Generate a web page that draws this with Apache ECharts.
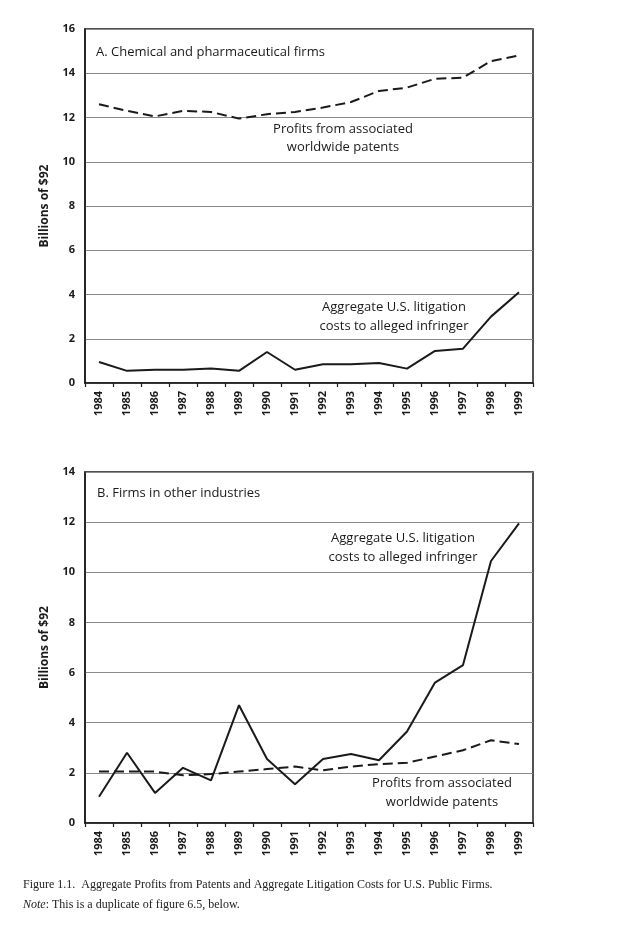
<!DOCTYPE html>
<html>
<head>
<meta charset="utf-8">
<script src="https://cdn.jsdelivr.net/npm/echarts@6/dist/echarts.min.js"></script>
<style>
  html, body { margin: 0; padding: 0; background: #fff; }
  #chart { width: 639px; height: 932px; }
</style>
</head>
<body>
<div id="chart"></div>
<script>
const years = ['1984','1985','1986','1987','1988','1989','1990','1991','1992','1993','1994','1995','1996','1997','1998','1999'];

// Panel A: Chemical and pharmaceutical firms
const chemProfits = [12.6, 12.3, 12.05, 12.3, 12.25, 11.95, 12.15, 12.25, 12.45, 12.7, 13.2, 13.35, 13.75, 13.8, 14.55, 14.8];
const chemLitigation = [0.95, 0.55, 0.6, 0.6, 0.65, 0.55, 1.4, 0.6, 0.85, 0.85, 0.9, 0.65, 1.45, 1.55, 3.0, 4.1];

// Panel B: Firms in other industries
const otherProfits = [2.05, 2.05, 2.05, 1.9, 1.95, 2.05, 2.15, 2.25, 2.1, 2.25, 2.35, 2.4, 2.65, 2.9, 3.3, 3.15];
const otherLitigation = [1.05, 2.8, 1.2, 2.2, 1.7, 4.7, 2.55, 1.55, 2.55, 2.75, 2.5, 3.65, 5.6, 6.3, 10.45, 11.95];

const yTicksA = { min: 0, max: 16, interval: 2 };
const yTicksB = { min: 0, max: 14, interval: 2 };

const sans = '"Open Sans", "Noto Sans", sans-serif';
const serif = '"Liberation Serif", "DejaVu Serif", serif';
const ink = '#1a1a1a';

function xAxisFor(gridIndex) {
  return {
    type: 'category', gridIndex, data: years, boundaryGap: true,
    axisLine: { lineStyle: { color: ink, width: 1.5 } },
    axisTick: { show: true, length: 4, lineStyle: { color: ink, width: 1.2 } },
    axisLabel: { rotate: 90, fontFamily: sans, fontWeight: 'bold', fontSize: 11, color: ink, margin: 8 },
    splitLine: { show: false }
  };
}
function yAxisFor(gridIndex, t) {
  return {
    type: 'value', gridIndex, min: t.min, max: t.max, interval: t.interval,
    name: 'Billions of $92', nameLocation: 'middle', nameRotate: 90, nameGap: 34,
    nameTextStyle: { fontFamily: sans, fontWeight: 'bold', fontSize: 12, color: ink },
    axisLine: { show: true, lineStyle: { color: ink, width: 1.5 } },
    axisTick: { show: false },
    axisLabel: { fontFamily: sans, fontWeight: 'bold', fontSize: 11, color: ink, margin: 10 },
    splitLine: { show: true, lineStyle: { color: '#8a8a8a', width: 1.2 } }
  };
}
function lineSeries(xi, data, dashed) {
  return {
    type: 'line', xAxisIndex: xi, yAxisIndex: xi, data,
    symbol: 'none', smooth: false,
    lineStyle: { color: ink, width: 2, type: dashed ? [10, 5] : 'solid' },
    z: 5
  };
}

const chart = echarts.init(document.getElementById('chart'), null, { renderer: 'canvas' });
chart.setOption({
  backgroundColor: '#fff',
  animation: false,
  grid: [
    { left: 85, top: 29, width: 448, height: 354, show: true, borderColor: ink, borderWidth: 1.5, containLabel: false },
    { left: 85, top: 472, width: 448, height: 351, show: true, borderColor: ink, borderWidth: 1.5, containLabel: false }
  ],
  xAxis: [xAxisFor(0), xAxisFor(1)],
  yAxis: [yAxisFor(0, yTicksA), yAxisFor(1, yTicksB)],
  series: [
    lineSeries(0, chemProfits, true),
    lineSeries(0, chemLitigation, false),
    lineSeries(1, otherProfits, true),
    lineSeries(1, otherLitigation, false)
  ],
  graphic: [
    { type: 'text', x: 96, y: 52, style: { text: 'A. Chemical and pharmaceutical firms', fill: ink, font: '13px ' + sans, textVerticalAlign: 'middle' } },
    { type: 'text', x: 343, y: 138, style: { text: 'Profits from associated\nworldwide patents', fill: ink, font: '13px ' + sans, textAlign: 'center', textVerticalAlign: 'middle', lineHeight: 18 } },
    { type: 'text', x: 394, y: 317, style: { text: 'Aggregate U.S. litigation\ncosts to alleged infringer', fill: ink, font: '13px ' + sans, textAlign: 'center', textVerticalAlign: 'middle', lineHeight: 19 } },
    { type: 'text', x: 97, y: 493, style: { text: 'B. Firms in other industries', fill: ink, font: '13px ' + sans, textVerticalAlign: 'middle' } },
    { type: 'text', x: 403, y: 548, style: { text: 'Aggregate U.S. litigation\ncosts to alleged infringer', fill: ink, font: '13px ' + sans, textAlign: 'center', textVerticalAlign: 'middle', lineHeight: 19 } },
    { type: 'text', x: 442, y: 793, style: { text: 'Profits from associated\nworldwide patents', fill: ink, font: '13px ' + sans, textAlign: 'center', textVerticalAlign: 'middle', lineHeight: 19 } },
    { type: 'text', x: 23, y: 885, style: { text: 'Figure 1.1.  Aggregate Profits from Patents and Aggregate Litigation Costs for U.S. Public Firms.', fill: '#222', font: '12px ' + serif, textVerticalAlign: 'middle' } },
    { type: 'text', x: 23, y: 905, style: { rich: { i: { fontStyle: 'italic', fontFamily: serif, fontSize: 12, fill: '#222' }, n: { fontFamily: serif, fontSize: 12, fill: '#222' } }, text: '{i|Note}{n|: This is a duplicate of figure 6.5, below.}', textVerticalAlign: 'middle' } }
  ]
});
</script>
</body>
</html>
